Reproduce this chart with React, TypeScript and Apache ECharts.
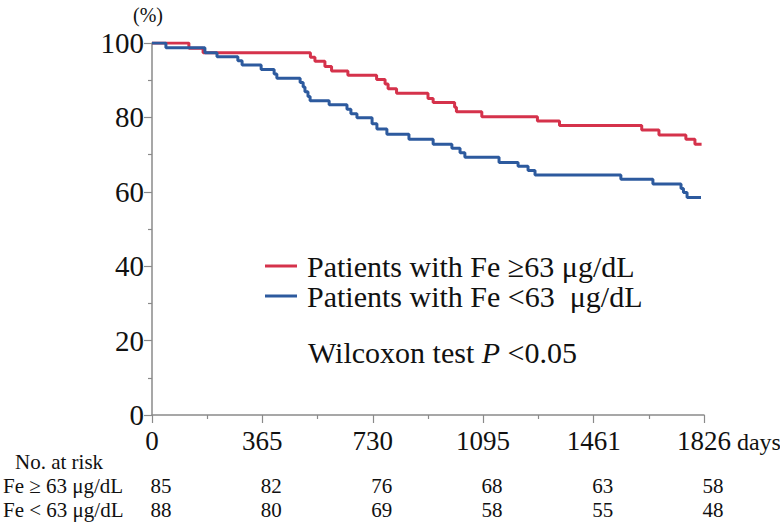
import React, { useEffect, useRef } from "react";
import * as echarts from "echarts";

const FONT = "Liberation Serif";

const redName = "Patients with Fe ≥63 μg/dL";
const blueName = "Patients with Fe <63  μg/dL";

// Kaplan-Meier steps: day of event, survival (%) after event
const redDays = [0, 122, 169, 524, 539, 572, 594, 648, 743, 771, 781, 809, 913, 930, 1001, 1007, 1091, 1275, 1348, 1620, 1677, 1766, 1796, 1818];
const redSurv = [100, 98.6, 97.4, 96.2, 95.1, 93.7, 92.5, 91.3, 90.2, 89.0, 87.7, 86.5, 85.1, 84.0, 82.7, 81.5, 80.2, 79.0, 77.8, 76.6, 75.3, 74.1, 72.8, 72.8];

const blueDays = [0, 46, 175, 215, 284, 298, 361, 404, 413, 490, 500, 506, 516, 523, 586, 645, 658, 678, 728, 744, 777, 850, 930, 992, 1019, 1035, 1148, 1211, 1244, 1267, 1551, 1657, 1750, 1758, 1770, 1816];
const blueSurv = [100, 98.7, 97.4, 96.3, 95.2, 94.1, 92.9, 91.7, 90.5, 89.4, 88.2, 86.9, 85.6, 84.5, 83.4, 82.2, 81.0, 79.9, 78.3, 76.9, 75.5, 74.1, 72.8, 71.7, 70.5, 69.3, 67.9, 66.9, 65.7, 64.5, 63.4, 62.1, 60.9, 59.8, 58.5, 58.5];

const tickDays = [0, 365, 730, 1095, 1461, 1826];
const riskHigh = [85, 82, 76, 68, 63, 58];
const riskLow = [88, 80, 69, 58, 55, 48];
const riskTitle = "No. at risk";
const riskHighLabel = "Fe ≥ 63 μg/dL";
const riskLowLabel = "Fe < 63 μg/dL";
const testText = "Wilcoxon test {i|P} <0.05";

const RED = "#d5324b";
const BLUE = "#2d5a9e";
const AXIS = "#8a8a8a";
const INK = "#111111";

export default function App() {
  const ref = useRef<HTMLDivElement>(null);

  useEffect(() => {
    if (!ref.current) return;
    const chart = echarts.init(ref.current, undefined, { renderer: "svg" });
    const zip = (xs: number[], ys: number[]) => xs.map((x, i) => [x, ys[i]]);

    chart.setOption({
      animation: false,
      backgroundColor: "#ffffff",
      textStyle: { fontFamily: FONT },
      grid: { left: 152, right: 76, top: 43, bottom: 111, containLabel: false, outerBoundsMode: "none" },
      legend: {
        data: [redName, blueName],
        orient: "vertical",
        left: 260,
        top: 246,
        itemWidth: 32,
        itemHeight: 3,
        itemGap: 0,
        icon: "rect",
        selectedMode: false,
        textStyle: { fontFamily: FONT, fontSize: 30, color: INK, lineHeight: 28, padding: [0, 0, 0, 5] },
      },
      xAxis: {
        type: "value",
        min: 0,
        max: 1826,
        interval: 365.2,
        name: "days",
        nameLocation: "end",
        nameGap: 29,
        nameTextStyle: { fontFamily: FONT, fontSize: 24, color: INK, verticalAlign: "top", lineHeight: 28, padding: [13, 0, 0, 0] },
        axisLine: { show: true, lineStyle: { color: AXIS, width: 1.5 } },
        axisTick: { show: true, length: 8, lineStyle: { color: AXIS, width: 1.2 } },
        minorTick: { show: true, splitNumber: 2, length: 4, lineStyle: { color: AXIS, width: 1.2 } },
        axisLabel: { customValues: tickDays, formatter: (v: number) => String(Math.round(v)), fontFamily: FONT, fontSize: 27, color: INK, margin: 12, lineHeight: 28 },
        splitLine: { show: false },
      },
      yAxis: {
        type: "value",
        min: 0,
        max: 100,
        interval: 20,
        name: "(%)",
        nameLocation: "end",
        nameGap: 18,
        nameTextStyle: { fontFamily: FONT, fontSize: 20, color: INK, padding: [0, 8, 0, 0] },
        axisLine: { show: true, lineStyle: { color: AXIS, width: 1.5 } },
        axisTick: { show: true, length: 8, lineStyle: { color: AXIS, width: 1.2 } },
        minorTick: { show: true, splitNumber: 2, length: 4, lineStyle: { color: AXIS, width: 1.2 } },
        axisLabel: { fontFamily: FONT, fontSize: 29, color: INK, margin: 8 },
        splitLine: { show: false },
      },
      series: [
        {
          name: redName,
          type: "line",
          step: "end",
          symbol: "none",
          data: zip(redDays, redSurv),
          lineStyle: { color: RED, width: 3 },
          itemStyle: { color: RED },
        },
        {
          name: blueName,
          type: "line",
          step: "end",
          symbol: "none",
          data: zip(blueDays, blueSurv),
          lineStyle: { color: BLUE, width: 3 },
          itemStyle: { color: BLUE },
        },
      ],
    });

    const xs = tickDays.map((d) => chart.convertToPixel({ xAxisIndex: 0 }, d) as number);
    const txt = (text: string, x: number, y: number, size: number, align = "left") => ({
      type: "text",
      style: { text, x, y, fill: INK, fontFamily: FONT, fontSize: size, align, verticalAlign: "middle" },
    });
    const graphic: any[] = [
      {
        type: "text",
        style: {
          text: testText,
          x: 308,
          y: 352,
          fill: INK,
          fontFamily: FONT,
          fontSize: 30,
          verticalAlign: "middle",
          rich: { i: { fontStyle: "italic", fontFamily: FONT, fontSize: 30, fill: INK } },
        },
      },
      txt(riskTitle, 15, 462, 21),
      txt(riskHighLabel, 3, 486, 21),
      txt(riskLowLabel, 3, 510, 21),
    ];
    xs.forEach((x, i) => {
      graphic.push(txt(String(riskHigh[i]), x + 9, 486, 21, "center"));
      graphic.push(txt(String(riskLow[i]), x + 9, 510, 21, "center"));
    });
    chart.setOption({ graphic });

    return () => chart.dispose();
  }, []);

  return <div ref={ref} style={{ position: "fixed", left: 0, top: 0, width: 780, height: 526 }} />;
}
